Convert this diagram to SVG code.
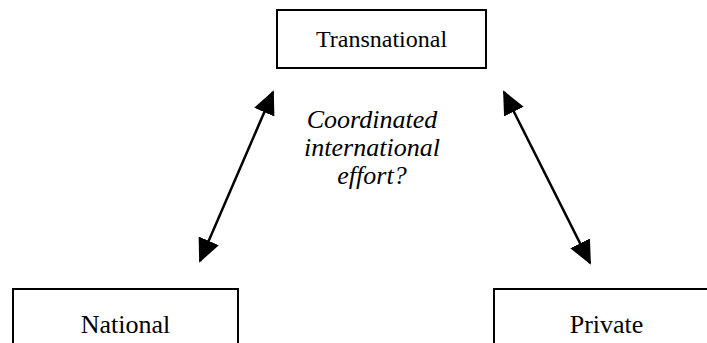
<svg xmlns="http://www.w3.org/2000/svg" width="707" height="343" viewBox="0 0 707 343">
  <style>
    .box { fill: #ffffff; stroke: #000000; stroke-width: 2; }
    .label { font-family: "Liberation Serif", "Times New Roman", serif; font-size: 26px; fill: #000000; text-anchor: middle; }
    .note { font-family: "Liberation Serif", "Times New Roman", serif; font-size: 26px; font-style: italic; fill: #000000; text-anchor: middle; }
    .link { stroke: #000000; stroke-width: 2.5; fill: none; marker-start: url(#head); marker-end: url(#head); }
  </style>
  <defs>
    <marker id="head" viewBox="0 0 24 22" refX="22" refY="11" markerWidth="24" markerHeight="22" markerUnits="userSpaceOnUse" orient="auto-start-reverse">
      <path d="M0,0 L24,11 L0,22 Z" fill="#000000"/>
    </marker>
  </defs>
  <rect x="0" y="0" width="707" height="343" fill="#ffffff"/>

  <g id="transnational">
    <rect class="box" x="277" y="10" width="209" height="58"/>
    <text class="label" x="381.5" y="47" style="font-size:24px">Transnational</text>
  </g>

  <g id="national">
    <rect class="box" x="13" y="289" width="225" height="70"/>
    <text class="label" x="125.5" y="333">National</text>
  </g>

  <g id="private">
    <rect class="box" x="494" y="289" width="225" height="70"/>
    <text class="label" x="606.5" y="333">Private</text>
  </g>

  <g id="question">
    <text class="note" x="372" y="128">Coordinated</text>
    <text class="note" x="372" y="156">international</text>
    <text class="note" x="372" y="184">effort?</text>
  </g>

  <g id="connectors">
    <line class="link" x1="273" y1="92" x2="200" y2="261"/>
    <line class="link" x1="504" y1="92" x2="590" y2="263"/>
  </g>
</svg>
